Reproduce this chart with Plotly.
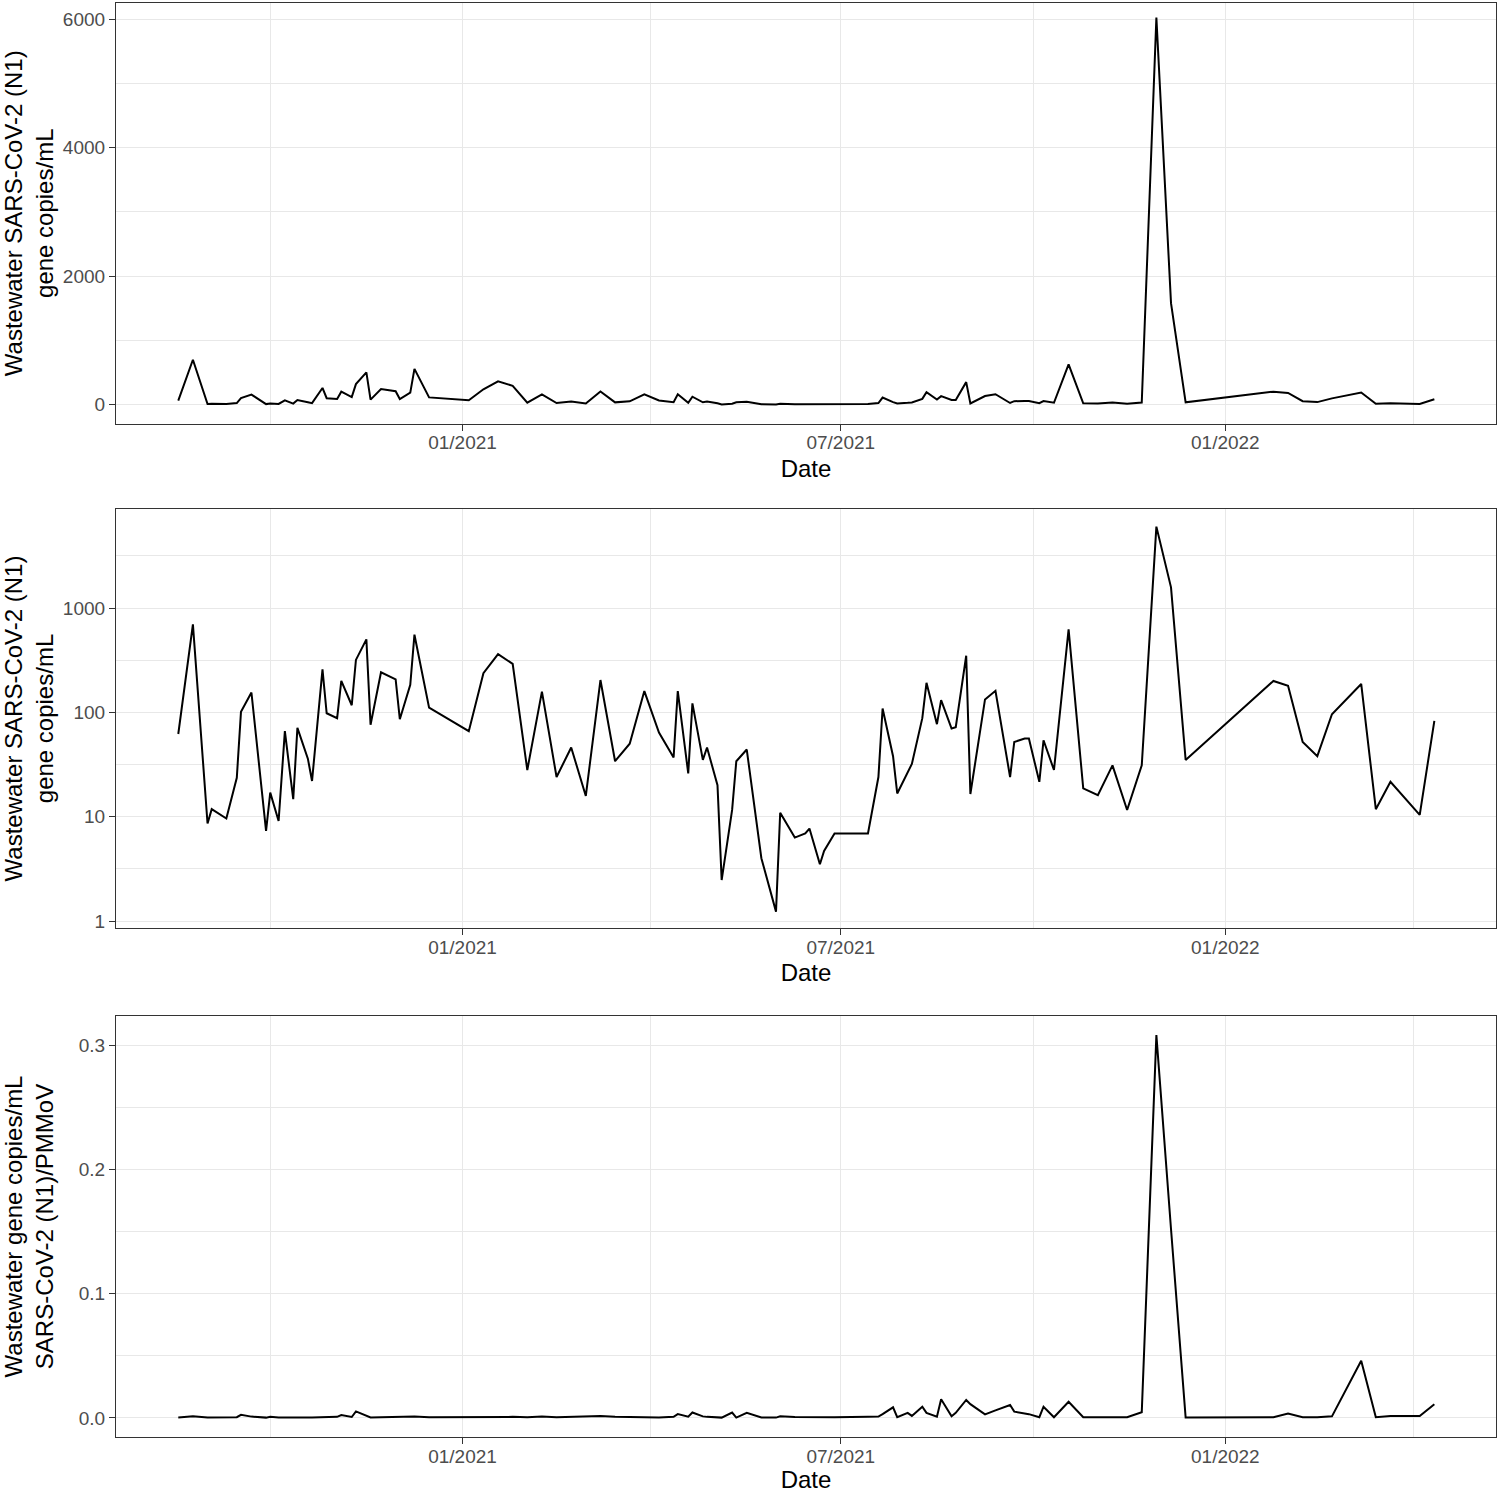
import plotly.graph_objects as go
import pandas as pd

dates = [
    "2020-08-18", "2020-08-25", "2020-09-01", "2020-09-03", "2020-09-10", "2020-09-15", "2020-09-17", "2020-09-22", "2020-09-29", "2020-10-01",
    "2020-10-05", "2020-10-08", "2020-10-12", "2020-10-14", "2020-10-19", "2020-10-21", "2020-10-26", "2020-10-28", "2020-11-02", "2020-11-04",
    "2020-11-09", "2020-11-11", "2020-11-16", "2020-11-18", "2020-11-23", "2020-11-30", "2020-12-02", "2020-12-07", "2020-12-09", "2020-12-16",
    "2021-01-04", "2021-01-11", "2021-01-18", "2021-01-25", "2021-02-01", "2021-02-08", "2021-02-15", "2021-02-22", "2021-03-01", "2021-03-08",
    "2021-03-15", "2021-03-22", "2021-03-29", "2021-04-05", "2021-04-12", "2021-04-14", "2021-04-19", "2021-04-21", "2021-04-26", "2021-04-28",
    "2021-05-03", "2021-05-05", "2021-05-10", "2021-05-12", "2021-05-17", "2021-05-24", "2021-05-31", "2021-06-02", "2021-06-09", "2021-06-14",
    "2021-06-16", "2021-06-21", "2021-06-23", "2021-06-28", "2021-07-14", "2021-07-19", "2021-07-21", "2021-07-26", "2021-07-28", "2021-08-02",
    "2021-08-04", "2021-08-09", "2021-08-11", "2021-08-16", "2021-08-18", "2021-08-23", "2021-08-25", "2021-08-30", "2021-09-01", "2021-09-08",
    "2021-09-13", "2021-09-20", "2021-09-22", "2021-09-27", "2021-09-29", "2021-10-04", "2021-10-06", "2021-10-11", "2021-10-18", "2021-10-25",
    "2021-11-01", "2021-11-08", "2021-11-15", "2021-11-22", "2021-11-29", "2021-12-06", "2021-12-13", "2022-01-24", "2022-01-31", "2022-02-07",
    "2022-02-14", "2022-02-21", "2022-03-07", "2022-03-14", "2022-03-21", "2022-04-04", "2022-04-11",
]

n1_gc_per_ml = [
    62, 697, 8.6, 11.8, 9.6, 23.6, 101, 155, 7.3, 17,
    9.1, 66, 14.7, 71, 36, 22, 258, 98, 88, 200,
    117, 318, 501, 76, 242, 207, 86, 184, 555, 111,
    66, 237, 362, 291, 28, 158, 24, 46, 15.8, 204,
    34, 50, 160, 64, 37, 160, 26, 122, 35, 46,
    20, 2.47, 11.6, 34, 44, 4.0, 1.23, 10.9, 6.3, 6.9,
    7.7, 3.5, 4.7, 6.9, 6.9, 24, 109, 38, 16.7, 26,
    32, 88, 192, 77, 131, 70, 72, 349, 16.5, 133,
    161, 24, 52, 56, 56, 21.6, 54, 28, 625, 18.7,
    16.1, 31, 11.6, 31, 6024, 1578, 35, 200, 180, 52,
    38, 96, 187, 11.8, 21.6, 10.4, 83,
]

n1_pmmov_ratio = [
    0.0003, 0.0012, 0.0002, 0.0002, 0.0002, 0.0005, 0.0024, 0.0010, 0.0002, 0.0008,
    0.0003, 0.0004, 0.0002, 0.0003, 0.0003, 0.0002, 0.0005, 0.0003, 0.0008, 0.0022,
    0.0007, 0.0052, 0.0020, 0.0003, 0.0005, 0.0008, 0.0004, 0.0006, 0.0010, 0.0005,
    0.0006, 0.0010, 0.0012, 0.0008, 0.0005, 0.0010, 0.0004, 0.0006, 0.0012, 0.0015,
    0.0008, 0.0004, 0.0004, 0.0003, 0.0008, 0.0030, 0.0010, 0.0043, 0.0012, 0.0008,
    0.0006, 0.0002, 0.0043, 0.0002, 0.0040, 0.0003, 0.0002, 0.0012, 0.0006, 0.0004,
    0.0004, 0.0002, 0.0003, 0.0004, 0.0008, 0.0010, 0.0030, 0.0085, 0.0006, 0.0040,
    0.0016, 0.0090, 0.0040, 0.0010, 0.0150, 0.0013, 0.0040, 0.0144, 0.0110, 0.0028,
    0.0060, 0.0104, 0.0050, 0.0035, 0.0030, 0.0005, 0.0090, 0.0005, 0.0130, 0.0005,
    0.0005, 0.0006, 0.0005, 0.0045, 0.3080, 0.1520, 0.0003, 0.0005, 0.0035, 0.0005,
    0.0005, 0.0012, 0.0460, 0.0005, 0.0015, 0.0015, 0.0110,
]

x_tickvals = ["2021-01-01", "2021-07-01", "2022-01-01"]
x_ticktext = ["01/2021", "07/2021", "01/2022"]
x_minor = ["2020-10-01", "2021-04-01", "2021-10-01", "2022-04-01"]

y1_ticks = [0, 2000, 4000, 6000]
y1_minor = [1000, 3000, 5000]
y2_ticks = [1, 10, 100, 1000]
y2_ticktext = ["1", "10", "100", "1000"]
y2_minor = [3.162, 31.62, 316.2, 3162]
y3_ticks = [0, 0.1, 0.2, 0.3]
y3_ticktext = ["0.0", "0.1", "0.2", "0.3"]
y3_minor = [0.05, 0.15, 0.25]

ytitle_n1 = "Wastewater SARS-CoV-2 (N1)<br>gene copies/mL"
ytitle_ratio = "Wastewater gene copies/mL<br>SARS-CoV-2 (N1)/PMMoV"

FONT = "Liberation Sans, Arial, Helvetica, sans-serif"
GRID = "#E8E8E8"
BORDER = "#333333"

x0 = pd.Timestamp("2021-01-01") - pd.Timedelta(days=165.8)
x1 = pd.Timestamp("2021-01-01") + pd.Timedelta(days=494.5)
xrange = [x0.strftime("%Y-%m-%d %H:%M"), x1.strftime("%Y-%m-%d %H:%M")]

fig = go.Figure()
line = dict(color="black", width=2)
fig.add_trace(go.Scatter(x=dates, y=n1_gc_per_ml, mode="lines", line=line, xaxis="x", yaxis="y", showlegend=False))
fig.add_trace(go.Scatter(x=dates, y=n1_gc_per_ml, mode="lines", line=line, xaxis="x2", yaxis="y2", showlegend=False))
fig.add_trace(go.Scatter(x=dates, y=n1_pmmov_ratio, mode="lines", line=line, xaxis="x3", yaxis="y3", showlegend=False))

H = 1493
top, bot = 3, 56
plot_h = H - top - bot


def dom(t, b):
    return [(H - bot - b) / plot_h, (H - bot - t) / plot_h]


def xax(anchor):
    return dict(
        domain=[0, 1], anchor=anchor, type="date", range=xrange,
        tickmode="array", tickvals=x_tickvals, ticktext=x_ticktext,
        showgrid=True, gridcolor=GRID, gridwidth=1.3,
        minor=dict(tickmode="array", tickvals=x_minor, showgrid=True, gridcolor=GRID, gridwidth=0.8, ticks=""),
        showline=True, linecolor=BORDER, linewidth=1.2, mirror=True,
        ticks="outside", ticklen=6, tickcolor=BORDER, tickwidth=1.2,
        ticklabelstandoff=-4,
        tickfont=dict(family=FONT, size=19, color="#4D4D4D"),
        title=dict(text="Date", font=dict(family=FONT, size=24, color="black"), standoff=7),
        zeroline=False, automargin=False,
    )


def yax(anchor, d, standoff, **kw):
    base = dict(
        domain=d, anchor=anchor,
        showgrid=True, gridcolor=GRID, gridwidth=1.3,
        showline=True, linecolor=BORDER, linewidth=1.2, mirror=True,
        ticks="outside", ticklen=6, tickcolor=BORDER, tickwidth=1.2,
        tickfont=dict(family=FONT, size=19, color="#4D4D4D"),
        zeroline=False, automargin=False,
    )
    base.update(kw)
    base["title"] = dict(text=base.pop("ttl"), font=dict(family=FONT, size=24, color="black"), standoff=standoff)
    return base


fig.update_layout(
    width=1500, height=H,
    margin=dict(l=116, r=4, t=top, b=bot),
    paper_bgcolor="white", plot_bgcolor="white",
    font=dict(family=FONT),
    xaxis=xax("y"),
    xaxis2=xax("y2"),
    xaxis3=xax("y3"),
    yaxis=yax("x", dom(3, 423.5), 6, range=[-295, 6249], tickmode="array", tickvals=y1_ticks,
              minor=dict(tickmode="array", tickvals=y1_minor, showgrid=True, gridcolor=GRID, gridwidth=0.8, ticks=""),
              ttl=ytitle_n1),
    yaxis2=yax("x2", dom(509, 928), 6, type="log", range=[-0.067, 3.949], tickmode="array",
               tickvals=y2_ticks, ticktext=y2_ticktext,
               minor=dict(tickmode="array", tickvals=y2_minor, showgrid=True, gridcolor=GRID, gridwidth=0.8, ticks=""),
               ttl=ytitle_n1),
    yaxis3=yax("x3", dom(1016, 1437), 22, range=[-0.0154, 0.3234], tickmode="array",
               tickvals=y3_ticks, ticktext=y3_ticktext,
               minor=dict(tickmode="array", tickvals=y3_minor, showgrid=True, gridcolor=GRID, gridwidth=0.8, ticks=""),
               ttl=ytitle_ratio),
)

fig.write_html("out.html")
